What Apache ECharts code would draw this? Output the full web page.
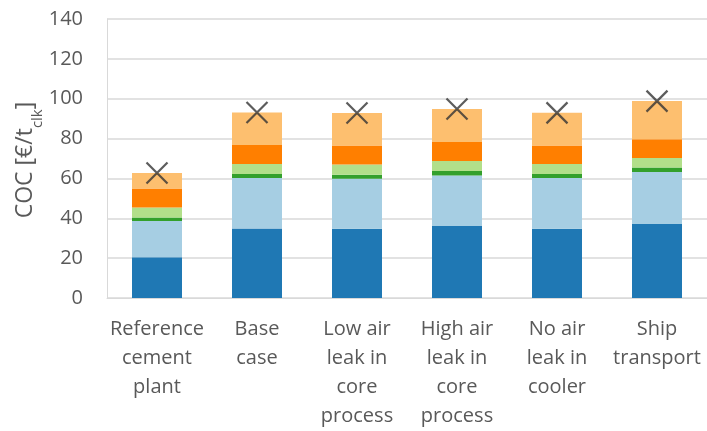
<!DOCTYPE html>
<html>
<head>
<meta charset="utf-8">
<script src="https://cdn.jsdelivr.net/npm/echarts@6/dist/echarts.min.js"></script>
<style>
  html, body { margin: 0; padding: 0; background: #fff; }
  #chart { width: 707px; height: 431px; }
</style>
</head>
<body>
<div id="chart"></div>
<script>
// Scenario labels on the x axis
const categories = [
  'Reference\ncement\nplant',
  'Base\ncase',
  'Low air\nleak in\ncore\nprocess',
  'High air\nleak in\ncore\nprocess',
  'No air\nleak in\ncooler',
  'Ship\ntransport'
];

// Stacked cost components, bottom to top (€/t clinker)
const component1 = [20.4, 34.9, 34.8, 36.1, 34.8, 37.1];
const component2 = [18.3, 25.3, 25.1, 25.4, 25.4, 26.1];
const component3 = [1.7, 2.0, 1.9, 2.2, 2.0, 2.3];
const component4 = [5.0, 5.0, 5.2, 5.1, 5.0, 4.8];
const component5 = [9.6, 9.6, 9.5, 9.5, 9.3, 9.4];
const component6 = [7.7, 16.3, 16.3, 16.5, 16.4, 19.1];

// Total cost of clinker per scenario (cross markers)
const totals = [62.7, 93.1, 92.8, 94.8, 92.9, 98.8];

// Y axis ticks
const yTicks = [0, 20, 40, 60, 80, 100, 120, 140];

const stackSeries = [
  { name: 'Component 1', data: component1, color: '#1F78B4' },
  { name: 'Component 2', data: component2, color: '#A6CEE3' },
  { name: 'Component 3', data: component3, color: '#33A02C' },
  { name: 'Component 4', data: component4, color: '#B2DF8A' },
  { name: 'Component 5', data: component5, color: '#FF7F00' },
  { name: 'Component 6', data: component6, color: '#FDBF6F' }
];

const font = '"Open Sans", "Noto Sans", sans-serif';
const textColor = '#595959';
const gridColor = '#D9D9D9';

const chart = echarts.init(document.getElementById('chart'), null, { renderer: 'canvas' });

chart.setOption({
  animation: false,
  backgroundColor: '#ffffff',
  grid: { left: 107, right: 0, top: 19, bottom: 131, containLabel: false },
  // Rotated y-axis title with subscript unit
  graphic: [{
    type: 'text',
    x: 28,
    y: 160,
    rotation: Math.PI / 2,
    style: {
      text: '{a|COC [€/t}{s|clk}{a|]}',
      align: 'center',
      verticalAlign: 'middle',
      fill: textColor,
      fontFamily: font,
      fontSize: 23,
      rich: {
        a: { fill: textColor, fontFamily: font, fontSize: 23, lineHeight: 28, verticalAlign: 'top' },
        s: { fill: textColor, fontFamily: font, fontSize: 15, lineHeight: 15, padding: [16, 0, 0, 0], verticalAlign: 'top' }
      }
    }
  }],
  xAxis: {
    type: 'category',
    data: categories,
    axisLine: { show: true, lineStyle: { color: gridColor, width: 1 } },
    axisTick: { show: false },
    axisLabel: {
      interval: 0,
      margin: 17,
      color: textColor,
      fontFamily: font,
      fontSize: 20,
      lineHeight: 29,
      align: 'center'
    }
  },
  yAxis: {
    type: 'value',
    min: yTicks[0],
    max: yTicks[yTicks.length - 1],
    interval: yTicks[1] - yTicks[0],
    axisLine: { show: true, lineStyle: { color: gridColor, width: 1 } },
    axisTick: { show: false },
    splitLine: { show: true, lineStyle: { color: gridColor, width: 1.5 } },
    axisLabel: {
      margin: 24,
      color: textColor,
      fontFamily: font,
      fontSize: 20
    }
  },
  series: stackSeries.map(s => ({
    name: s.name,
    type: 'bar',
    stack: 'coc',
    barWidth: '50%',
    data: s.data,
    itemStyle: { color: s.color },
    emphasis: { disabled: true }
  })).concat([{
    name: 'Total',
    type: 'scatter',
    data: totals,
    symbol: 'path://M0,0L10,10M10,0L0,10',
    symbolSize: 21,
    symbolKeepAspect: true,
    itemStyle: { color: 'none', borderColor: '#333333', borderWidth: 2.2 },
    z: 5,
    emphasis: { disabled: true }
  }])
});
</script>
</body>
</html>
